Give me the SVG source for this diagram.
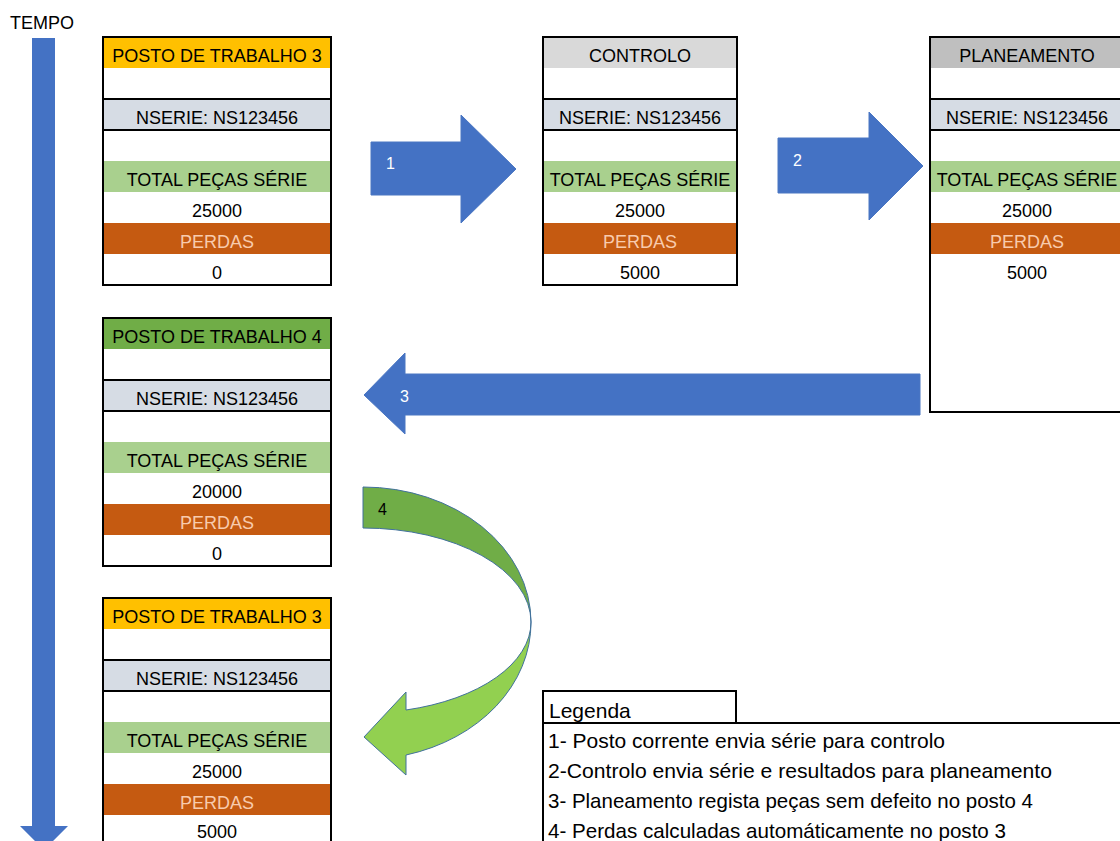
<svg xmlns="http://www.w3.org/2000/svg" width="1120" height="841" viewBox="0 0 1120 841">
  <style>
    text { font-family: "Liberation Sans", Arial, sans-serif; fill: #000; }
    .cell { font-size: 18px; text-anchor: middle; }
    .loss { fill: #F8CBAD; }
    .frame { fill: none; stroke: #000; stroke-width: 2; }
    .rule { stroke: #000; stroke-width: 2; }
    .hdr-yellow { fill: #FFC000; }
    .hdr-green { fill: #70AD47; }
    .hdr-light { fill: #D9D9D9; }
    .hdr-dark { fill: #BFBFBF; }
    .serie { fill: #D6DCE4; }
    .total { fill: #A9D08E; }
    .perdas { fill: #C55A11; }
    .blue-arrow { fill: #4472C4; stroke: #4A76C2; stroke-width: 1; }
    .num { font-size: 16px; fill: #fff; }
    .legend { font-size: 21px; }
  </style>

  <!-- time axis -->
  <g id="tempo">
    <text x="10" y="29" font-size="18">TEMPO</text>
    <path d="M32,38 H55 V826 H68 L44,850 L20,826 H32 Z" fill="#4472C4"/>
  </g>

  <!-- work station 3 (start) -->
  <g id="posto3-inicio">
    <rect x="103" y="37" width="228" height="31" class="hdr-yellow"/>
    <rect x="103" y="99" width="228" height="31" class="serie"/>
    <rect x="103" y="161" width="228" height="31" class="total"/>
    <rect x="103" y="223" width="228" height="31" class="perdas"/>
    <rect x="103" y="37" width="228" height="248" class="frame"/>
    <line x1="103" y1="99" x2="331" y2="99" class="rule"/>
    <line x1="103" y1="130" x2="331" y2="130" class="rule"/>
    <text x="217" y="62" class="cell">POSTO DE TRABALHO 3</text>
    <text x="217" y="124" class="cell">NSERIE: NS123456</text>
    <text x="217" y="186" class="cell">TOTAL PEÇAS SÉRIE</text>
    <text x="217" y="217" class="cell">25000</text>
    <text x="217" y="248" class="cell loss">PERDAS</text>
    <text x="217" y="279" class="cell">0</text>
  </g>

  <!-- quality control -->
  <g id="controlo">
    <rect x="543" y="37" width="194" height="31" class="hdr-light"/>
    <rect x="543" y="99" width="194" height="31" class="serie"/>
    <rect x="543" y="161" width="194" height="31" class="total"/>
    <rect x="543" y="223" width="194" height="31" class="perdas"/>
    <rect x="543" y="37" width="194" height="248" class="frame"/>
    <line x1="543" y1="99" x2="737" y2="99" class="rule"/>
    <line x1="543" y1="130" x2="737" y2="130" class="rule"/>
    <text x="640" y="62" class="cell">CONTROLO</text>
    <text x="640" y="124" class="cell">NSERIE: NS123456</text>
    <text x="640" y="186" class="cell">TOTAL PEÇAS SÉRIE</text>
    <text x="640" y="217" class="cell">25000</text>
    <text x="640" y="248" class="cell loss">PERDAS</text>
    <text x="640" y="279" class="cell">5000</text>
  </g>

  <!-- planning -->
  <g id="planeamento">
    <rect x="930" y="37" width="194" height="31" class="hdr-dark"/>
    <rect x="930" y="99" width="194" height="31" class="serie"/>
    <rect x="930" y="161" width="194" height="31" class="total"/>
    <rect x="930" y="223" width="194" height="31" class="perdas"/>
    <rect x="930" y="37" width="194" height="375" class="frame"/>
    <line x1="930" y1="99" x2="1124" y2="99" class="rule"/>
    <line x1="930" y1="130" x2="1124" y2="130" class="rule"/>
    <text x="1027" y="62" class="cell">PLANEAMENTO</text>
    <text x="1027" y="124" class="cell">NSERIE: NS123456</text>
    <text x="1027" y="186" class="cell">TOTAL PEÇAS SÉRIE</text>
    <text x="1027" y="217" class="cell">25000</text>
    <text x="1027" y="248" class="cell loss">PERDAS</text>
    <text x="1027" y="279" class="cell">5000</text>
  </g>

  <!-- work station 4 -->
  <g id="posto4">
    <rect x="103" y="318" width="228" height="31" class="hdr-green"/>
    <rect x="103" y="380" width="228" height="31" class="serie"/>
    <rect x="103" y="442" width="228" height="31" class="total"/>
    <rect x="103" y="504" width="228" height="31" class="perdas"/>
    <rect x="103" y="318" width="228" height="248" class="frame"/>
    <line x1="103" y1="380" x2="331" y2="380" class="rule"/>
    <line x1="103" y1="411" x2="331" y2="411" class="rule"/>
    <text x="217" y="343" class="cell">POSTO DE TRABALHO 4</text>
    <text x="217" y="405" class="cell">NSERIE: NS123456</text>
    <text x="217" y="467" class="cell">TOTAL PEÇAS SÉRIE</text>
    <text x="217" y="498" class="cell">20000</text>
    <text x="217" y="529" class="cell loss">PERDAS</text>
    <text x="217" y="560" class="cell">0</text>
  </g>

  <!-- work station 3 (after update) -->
  <g id="posto3-fim">
    <rect x="103" y="598" width="228" height="31" class="hdr-yellow"/>
    <rect x="103" y="660" width="228" height="31" class="serie"/>
    <rect x="103" y="722" width="228" height="31" class="total"/>
    <rect x="103" y="784" width="228" height="31" class="perdas"/>
    <rect x="103" y="598" width="228" height="260" class="frame"/>
    <line x1="103" y1="660" x2="331" y2="660" class="rule"/>
    <line x1="103" y1="691" x2="331" y2="691" class="rule"/>
    <text x="217" y="623" class="cell">POSTO DE TRABALHO 3</text>
    <text x="217" y="685" class="cell">NSERIE: NS123456</text>
    <text x="217" y="747" class="cell">TOTAL PEÇAS SÉRIE</text>
    <text x="217" y="778" class="cell">25000</text>
    <text x="217" y="809" class="cell loss">PERDAS</text>
    <text x="217" y="838" class="cell">5000</text>
  </g>

  <!-- flow arrows -->
  <g id="connectors">
    <path class="blue-arrow" d="M371,142 H461 V115 L516,169 L461,223 V195 H371 Z"/>
    <text x="386" y="169" class="num">1</text>

    <path class="blue-arrow" d="M778,138 H869 V112 L923,166 L869,220 V193 H778 Z"/>
    <text x="793" y="166" class="num">2</text>

    <path class="blue-arrow" d="M920,374 H405 V353 L364,395 L405,434 V415 H920 Z"/>
    <text x="400" y="402" class="num">3</text>

    <!-- curved return arrow: back face then front face with head -->
    <path d="M363,487 A168,135 0 0 1 531,622 A168,94 0 0 0 363,528 Z" fill="#70AD47" stroke="#41719C" stroke-width="1"/>
    <path d="M531,622 A168,137 0 0 1 406,755 L406,775 L364,737 L406,692 L406,710 A168,91 0 0 0 531,622 Z" fill="#92D050" stroke="#41719C" stroke-width="1"/>
    <text x="378" y="515" font-size="16">4</text>
  </g>

  <!-- legend -->
  <g id="legenda">
    <rect x="543" y="691" width="193" height="32" class="frame"/>
    <rect x="543" y="723" width="600" height="140" class="frame"/>
    <text x="549" y="718" class="legend">Legenda</text>
    <text x="548" y="748" class="legend" textLength="397" lengthAdjust="spacingAndGlyphs">1- Posto corrente envia série para controlo</text>
    <text x="548" y="778" class="legend" textLength="504" lengthAdjust="spacingAndGlyphs">2-Controlo envia série e resultados para planeamento</text>
    <text x="548" y="808" class="legend" textLength="485" lengthAdjust="spacingAndGlyphs">3- Planeamento regista peças sem defeito no posto 4</text>
    <text x="548" y="838" class="legend" textLength="458" lengthAdjust="spacingAndGlyphs">4- Perdas calculadas automáticamente no posto 3</text>
  </g>
</svg>
